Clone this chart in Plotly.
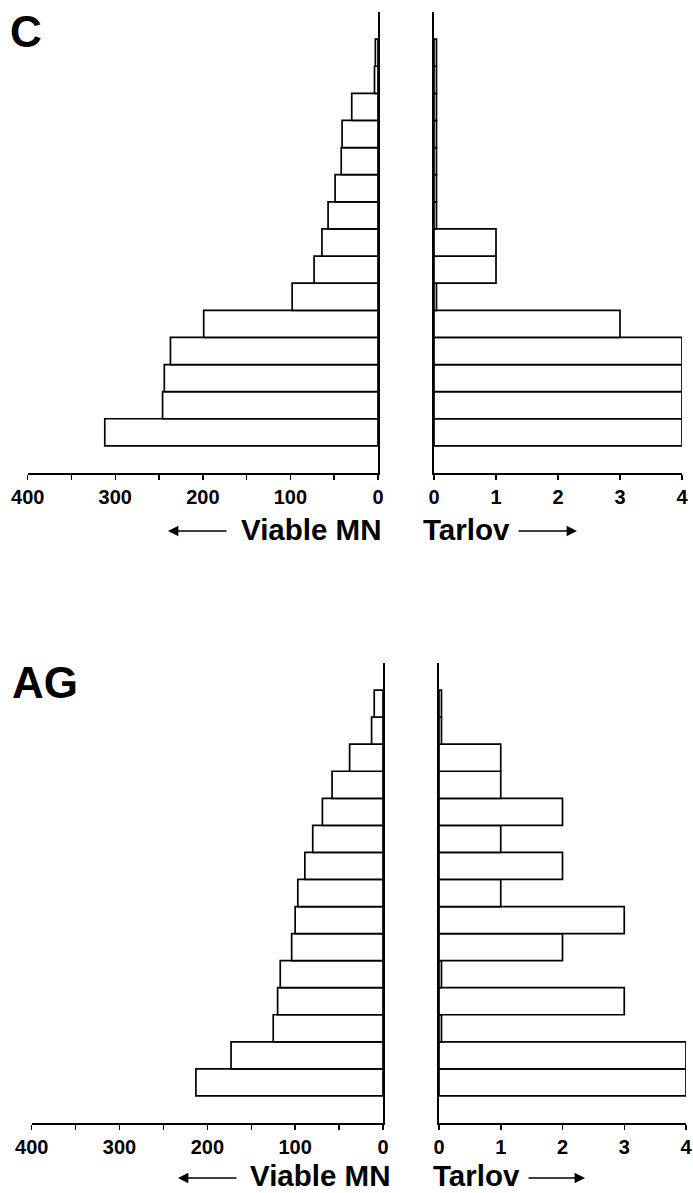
import plotly.graph_objects as go

# ---- data (bottom bar first) ----
rank = list(range(1, 16))

c_viable_mn = [312, 246, 244, 237, 199, 98, 73, 64, 57, 49, 42, 41, 30, 4, 3]
c_tarlov = [4, 4, 4, 4, 3, 0.04, 1, 1, 0.04, 0.04, 0.04, 0.04, 0.04, 0.04, 0.04]

ag_viable_mn = [213, 173, 125, 120, 117, 104, 100, 97, 89, 80, 69, 58, 38, 13, 10]
ag_tarlov = [4, 4, 0.04, 3, 0.04, 2, 3, 1, 2, 1, 2, 1, 1, 0.04, 0.04]

mn_ticks = [0, 50, 100, 150, 200, 250, 300, 350, 400]
mn_ticktext = ["0", "", "100", "", "200", "", "300", "", "400"]
tarlov_ticks = [0, 1, 2, 3, 4]
tarlov_ticktext = ["0", "1", "2", "3", "4"]

W, H = 693, 1193
FONT = "Liberation Sans, Arial, Helvetica, sans-serif"

L, R, T, B = 0, 0, 0, 0
PW = W - L - R
PH = H - T - B


def px(x):
    return (x - L) / PW


def py(y):
    return 1 - (y - T) / PH


fig = go.Figure()

bar_style = dict(orientation="h", width=1,
                 marker=dict(color="white", line=dict(color="black", width=1.7)),
                 showlegend=False, hoverinfo="x")

fig.add_trace(go.Bar(x=c_viable_mn, y=rank, xaxis="x", yaxis="y", **bar_style))
fig.add_trace(go.Bar(x=c_tarlov, y=rank, xaxis="x2", yaxis="y2", **bar_style))
fig.add_trace(go.Bar(x=ag_viable_mn, y=rank, xaxis="x3", yaxis="y3", **bar_style))
fig.add_trace(go.Bar(x=ag_tarlov, y=rank, xaxis="x4", yaxis="y4", **bar_style))

tickfont = dict(family=FONT, size=20, color="black", weight="bold")


def xax(domain, anchor, rng, tv, tt):
    return dict(domain=domain, anchor=anchor, range=rng, tickvals=tv, ticktext=tt,
                showline=True, linewidth=2, linecolor="black", ticks="outside", ticklen=5,
                tickwidth=1.5, tickcolor="black", tickfont=tickfont, showgrid=False,
                zeroline=False, fixedrange=True, automargin=False)


def yax(domain, anchor, side):
    return dict(domain=domain, anchor=anchor, range=[-0.5, 16.5], side=side, showline=True,
                linewidth=2, linecolor="black", showticklabels=False, ticks="", showgrid=False,
                zeroline=False, fixedrange=True, automargin=False)


c_dom = [py(473), py(12)]
ag_dom = [py(1123), py(663)]

fig.update_layout(
    width=W, height=H, autosize=False,
    margin=dict(l=L, r=R, t=T, b=B, pad=0, autoexpand=False),
    paper_bgcolor="white", plot_bgcolor="white",
    bargap=0,
    xaxis=xax([px(27.7), px(378)], "y", [400, 0], mn_ticks, mn_ticktext),
    yaxis=yax(c_dom, "x", "right"),
    xaxis2=xax([px(434), px(682)], "y2", [0, 4], tarlov_ticks, tarlov_ticktext),
    yaxis2=yax(c_dom, "x2", "left"),
    xaxis3=xax([px(31.7), px(383)], "y3", [400, 0], mn_ticks, mn_ticktext),
    yaxis3=yax(ag_dom, "x3", "right"),
    xaxis4=xax([px(439), px(686)], "y4", [0, 4], tarlov_ticks, tarlov_ticktext),
    yaxis4=yax(ag_dom, "x4", "left"),
)

label_font = dict(family=FONT, size=29.5, color="black", weight="bold")
letter_font = dict(family=FONT, size=44, color="black", weight="bold")

annotations = [
    dict(text="C", x=px(8), y=py(31), xanchor="left", yanchor="middle", font=letter_font),
    dict(text="AG", x=px(10), y=py(682), xanchor="left", yanchor="middle", font=letter_font),
    dict(text="Viable MN", x=px(383), y=py(529), xanchor="right", yanchor="middle", font=label_font),
    dict(text="Tarlov", x=px(421), y=py(529), xanchor="left", yanchor="middle", font=label_font),
    dict(text="Viable MN", x=px(392), y=py(1175), xanchor="right", yanchor="middle", font=label_font),
    dict(text="Tarlov", x=px(431), y=py(1175), xanchor="left", yanchor="middle", font=label_font),
]
for a in annotations:
    a.update(xref="paper", yref="paper", showarrow=False)

arrows = [
    (168, 228, 531), (577, 517, 531),
    (178, 238, 1178), (585, 527, 1178),
]
for tip, tail, yy in arrows:
    annotations.append(dict(text="", xref="paper", yref="paper", axref="pixel", ayref="pixel",
                            x=px(tip), y=py(yy), ax=tail - tip, ay=0, showarrow=True,
                            arrowhead=2, arrowsize=1.3, arrowwidth=1.6, arrowcolor="black"))

fig.update_layout(annotations=annotations)

fig.write_html("out.html",
               config={"displayModeBar": False, "staticPlot": True},
               post_script="document.body.style.margin='0';document.body.style.overflow='hidden';")
